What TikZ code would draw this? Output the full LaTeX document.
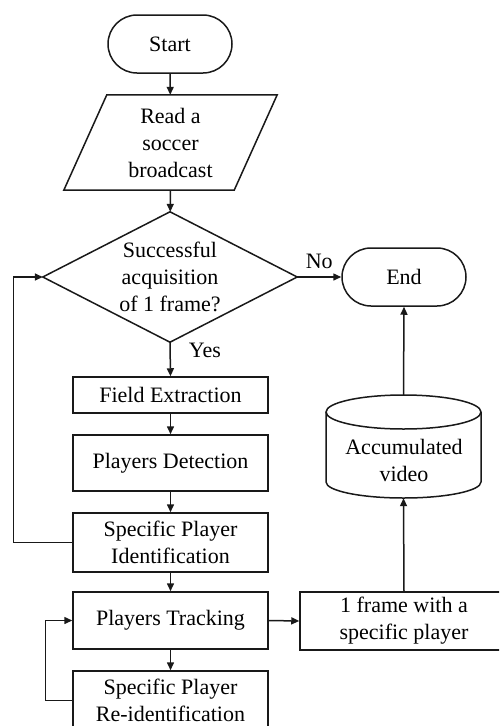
\documentclass[tikz,border=0pt]{standalone}
\usepackage{fontspec}
\setmainfont{Liberation Serif}
\usetikzlibrary{arrows.meta,calc}
\begin{document}
\begin{tikzpicture}[x=1pt,y=-1pt,
  every node/.style={font=\rmfamily\fontsize{22}{27}\selectfont, align=center, inner sep=0pt},
  ln/.style={line width=1.5pt, draw=black!90},
  arr/.style={ln, -{Triangle[length=8pt,width=7pt]}},
  procbox/.style={ln, draw, minimum width=195pt},
  termbox/.style={ln, draw, rounded corners=29pt, minimum width=124pt, minimum height=58pt},
  lbl/.style={font=\rmfamily\fontsize{22}{27}\selectfont}
]
\clip (0,0) rectangle (499,726);
\fill[white] (0,0) rectangle (499,726);

% terminals
\node[termbox] (start) at (170,44) {Start};
\node[termbox] (end) at (404,277) {End};

% parallelogram
\node[minimum width=213pt, minimum height=95pt] (read) at (170.5,142.5) {Read a\\soccer\\broadcast};
\draw[ln, line join=miter] ($(read.north west)+(43,0)$) -- (read.north east) -- ($(read.south east)-(43,0)$) -- (read.south west) -- cycle;

% decision diamond
\node[minimum width=254pt, minimum height=130pt] (dec) at (170,277) {Successful\\acquisition\\of 1 frame?};
\draw[ln, line join=miter] (dec.north) -- (dec.east) -- (dec.south) -- (dec.west) -- cycle;

% process boxes
\node[procbox, minimum height=36pt] (fe) at (170.5,395) {Field Extraction};
\node[procbox, minimum height=56pt] (pd) at (170.5,463) {Players Detection};
\node[procbox, minimum height=59pt] (spi) at (170.5,542.5) {Specific Player\\Identification};
\node[procbox, minimum height=57pt] (pt) at (170.5,620.5) {Players Tracking};
\node[procbox, minimum height=59pt] (re) at (170.5,700.5) {Specific Player\\Re-identification};

% frame box
\node[ln, draw, minimum width=208pt, minimum height=58pt] (frame) at (404,621) {1 frame with a\\specific player};

% cylinder
\node[minimum width=155pt, minimum height=103pt] (acc) at (403.5,446.5) {};
\draw[ln] (403.5,412) ellipse [x radius=77.5pt, y radius=17pt];
\draw[ln] (326,412) -- (326,482) arc[start angle=180, end angle=360, x radius=77.5pt, y radius=16pt] -- (481,412);
\node (acctext) at (404,460) {Accumulated\\video};

% connectors
\draw[arr] (start) -- (read);
\draw[arr] (read) -- (dec);
\draw[arr] (dec.east) -- node[lbl, above=8pt] (no) {No} (end.west);
\draw[arr] (dec.south) -- node[lbl, pos=0.25, right=18pt] (yes) {Yes} (fe.north);
\draw[arr] (fe) -- (pd);
\draw[arr] (pd) -- (spi);
\draw[arr] (spi) -- (pt);
\draw[arr] (pt) -- (re);
\draw[arr] (spi.west) -- ++(-59,0) |- (dec.west);
\draw[arr] (re.west) -- ++(-27,0) |- (pt.west);
\draw[arr] (pt.east) -- (frame.west);
\draw[arr] (frame.north) -- (acc.south);
\draw[arr] (acc.north) -- (end.south);
\end{tikzpicture}
\end{document}
